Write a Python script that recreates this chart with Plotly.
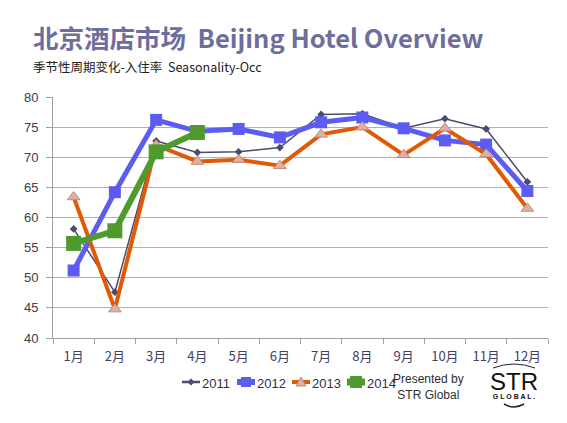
import plotly.graph_objects as go

months = ["1月", "2月", "3月", "4月", "5月", "6月", "7月", "8月", "9月", "10月", "11月", "12月"]
occ_2011 = [58.1, 47.6, 72.7, 70.8, 70.9, 71.6, 77.1, 77.2, 74.8, 76.4, 74.7, 65.9]
occ_2012 = [51.2, 64.2, 76.2, 74.3, 74.7, 73.3, 75.8, 76.6, 74.8, 72.8, 72.1, 64.4]
occ_2013 = [63.4, 44.8, 72.0, 69.3, 69.6, 68.6, 73.8, 75.0, 70.4, 74.8, 70.5, 61.5]
occ_2014 = [55.7, 57.8, 70.9, 74.1]
series_names = ["2011", "2012", "2013", "2014"]
y_ticks = [40, 45, 50, 55, 60, 65, 70, 75, 80]

# page has an 8px body margin; figure is sized to fit the window
OFF = 8
W, H = 567 - OFF, 423 - OFF
PL, PR, PT, PB = 53, 548, 97, 338          # plot area in page pixels
L, T = PL - OFF, PT - OFF
R = W - (PR - OFF)
B = H - (PB - OFF)


def px(xp):
    return (xp - PL) / (PR - PL)


def py(yp):
    return (PB - yp) / (PB - PT)


styles = [
    dict(line=dict(color="#4b4b6b", width=1.5),
         marker=dict(symbol="diamond", size=6, color="#4b4b6b")),
    dict(line=dict(color="#5c5cf2", width=5),
         marker=dict(symbol="square", size=12, color="#5c5cf2")),
    dict(line=dict(color="#e05a05", width=4),
         marker=dict(symbol="triangle-up", size=11, color="#d9b2aa",
                     line=dict(color="#c9876e", width=1))),
    dict(line=dict(color="#4e9a2e", width=6),
         marker=dict(symbol="square", size=15, color="#4e9a2e")),
]
data = [occ_2011, occ_2012, occ_2013, occ_2014]

fig = go.Figure()
for name, vals, st in zip(series_names, data, styles):
    fig.add_trace(go.Scatter(x=months[:len(vals)], y=vals, name=name, mode="lines+markers",
                             showlegend=False, **st))

fig.update_layout(
    width=W, height=H,
    margin=dict(l=L, r=R, t=T, b=B, autoexpand=False),
    paper_bgcolor="white", plot_bgcolor="white",
    font=dict(family="Liberation Sans, Arial", size=12, color="#404040"),
    xaxis=dict(type="category", range=[-0.5, 11.5], showgrid=False, showline=True,
               linecolor="#a0a0a0", linewidth=1, ticks="outside", tickson="boundaries",
               ticklen=5, tickcolor="#a0a0a0", ticklabelstandoff=6,
               tickfont=dict(family="Noto Sans CJK SC", size=13, color="#404060")),
    yaxis=dict(range=[40, 80], tickvals=y_ticks, showgrid=True, gridcolor="#b0b0b0",
               gridwidth=1.2, showline=True, linecolor="#a0a0a0", ticks="outside",
               ticklen=6, tickcolor="#a0a0a0", zeroline=False, ticklabelstandoff=5,
               tickfont=dict(size=13, color="#404040")),
)

# ---- legend (drawn as keys + labels, matching the compact original legend) ----
leg_y = 382
key_centers = [191, 246, 301, 356]
key_cols = ["#4b4b6b", "#5c5cf2", "#e05a05", "#4e9a2e"]
key_lw = [2.5, 6, 4, 7]
for name, cx, col, lw in zip(series_names, key_centers, key_cols, key_lw):
    fig.add_shape(type="line", xref="paper", yref="paper", xsizemode="pixel", ysizemode="pixel",
                  xanchor=px(cx), yanchor=py(leg_y), x0=-9, x1=9, y0=0, y1=0,
                  line=dict(color=col, width=lw), layer="above")
    fig.add_annotation(xref="paper", yref="paper", x=px(cx + 9), y=py(leg_y + 1),
                       xanchor="left", yanchor="middle", showarrow=False, text=name,
                       font=dict(family="Liberation Sans, Arial", size=13, color="#303050"))
# key markers
fig.add_shape(type="path", xref="paper", yref="paper", xsizemode="pixel", ysizemode="pixel",
              xanchor=px(191), yanchor=py(leg_y), path="M -3.5,0 L 0,3.5 L 3.5,0 L 0,-3.5 Z",
              fillcolor="#4b4b6b", line=dict(width=0), layer="above")
fig.add_shape(type="rect", xref="paper", yref="paper", xsizemode="pixel", ysizemode="pixel",
              xanchor=px(246), yanchor=py(leg_y), x0=-5, x1=5, y0=-5, y1=5,
              fillcolor="#5c5cf2", line=dict(width=0), layer="above")
fig.add_shape(type="path", xref="paper", yref="paper", xsizemode="pixel", ysizemode="pixel",
              xanchor=px(301), yanchor=py(leg_y), path="M -5,-4 L 5,-4 L 0,5 Z",
              fillcolor="#d9b2aa", line=dict(color="#c9876e", width=1), layer="above")
fig.add_shape(type="rect", xref="paper", yref="paper", xsizemode="pixel", ysizemode="pixel",
              xanchor=px(356), yanchor=py(leg_y), x0=-6, x1=6, y0=-6, y1=6,
              fillcolor="#4e9a2e", line=dict(width=0), layer="above")

# ---- titles ----
fig.add_annotation(xref="paper", yref="paper", x=px(31), y=py(36),
                   xanchor="left", yanchor="middle", showarrow=False,
                   text="<b>北京酒店市场&nbsp; Beijing Hotel Overview</b>",
                   font=dict(family="Noto Sans CJK SC", size=25.5, color="#6e6e9e"))
fig.add_annotation(xref="paper", yref="paper", x=px(31), y=py(66),
                   xanchor="left", yanchor="middle", showarrow=False,
                   text="季节性周期变化-入住率  Seasonality-Occ",
                   font=dict(family="Noto Sans CJK SC", size=12.5, color="#202020"))
fig.add_annotation(xref="paper", yref="paper", x=px(428), y=py(387),
                   xanchor="center", yanchor="middle", showarrow=False,
                   text="Presented by<br>STR Global",
                   font=dict(family="Liberation Sans, Arial", size=12, color="#303030"))

# ---- STR logo (one text block: wordmark + small "GLOBAL.") ----
fig.add_annotation(xref="paper", yref="paper", x=px(514), y=py(384),
                   xanchor="center", yanchor="middle", showarrow=False,
                   text="<span style='font-size:24px'>STR</span><br><b>G L O B A L .</b>",
                   font=dict(family="Liberation Sans, Arial", size=7, color="#111111"))
fig.add_shape(type="path", xref="paper", yref="paper", layer="above",
              path="M {:.4f},{:.4f} Q {:.4f},{:.4f} {:.4f},{:.4f}".format(
                  px(493), py(368), px(514), py(360), px(535), py(368)),
              line=dict(color="#222222", width=1))
fig.add_shape(type="path", xref="paper", yref="paper", layer="above",
              path="M {:.4f},{:.4f} Q {:.4f},{:.4f} {:.4f},{:.4f}".format(
                  px(504), py(404), px(514), py(410), px(524), py(404)),
              line=dict(color="#222222", width=1.5))

fig.write_html("out.html")
